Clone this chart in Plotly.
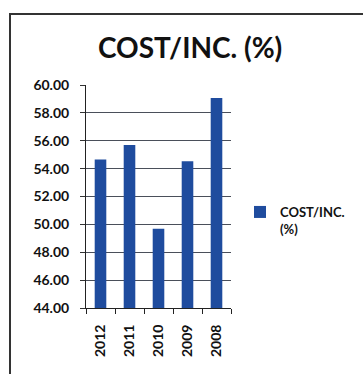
import plotly.graph_objects as go

years = ["2012", "2011", "2010", "2009", "2008"]
cost_inc = [54.65, 55.70, 49.68, 54.53, 59.07]
series_name = "COST/INC.<br>(%)"
title_text = "COST/INC. (%)"
y_ticks = [44, 46, 48, 50, 52, 54, 56, 58, 60]

W, H = 363, 374
L, R, T, B = 86, 231, 85, 308

def px_x(p):
    return (p - L) / (R - L)

def px_y(p):
    return (B - p) / (B - T)

fig = go.Figure()
fig.add_trace(go.Bar(x=years, y=cost_inc, name=series_name,
                     marker=dict(color="#1f4c9e", line=dict(width=0)),
                     showlegend=True))

fig.update_layout(
    width=W, height=H,
    margin=dict(l=L, r=W - R, t=T, b=H - B, pad=0),
    paper_bgcolor="white", plot_bgcolor="white",
    bargap=0.6,
    font=dict(family="Lato", color="#111111"),
    showlegend=True,
    legend=dict(x=px_x(240), y=px_y(197), xanchor="left", yanchor="top",
                font=dict(size=13, family="Lato", color="#111111", weight="bold"),
                valign="top", itemwidth=30, bgcolor="rgba(0,0,0,0)",
                tracegroupgap=0),
    annotations=[dict(text="<b>" + title_text + "</b>", x=px_x(190), y=px_y(47),
                      xref="paper", yref="paper", showarrow=False,
                      font=dict(size=28, family="Lato", color="#111111"),
                      xanchor="center", yanchor="middle")],
    shapes=[dict(type="rect", xref="paper", yref="paper",
                 x0=px_x(10), x1=px_x(380), y0=px_y(390), y1=px_y(14),
                 line=dict(color="#333333", width=2), layer="below")],
)
fig.update_xaxes(type="category", showline=True, linecolor="#222222", linewidth=1,
                 ticks="outside", ticklen=5, tickcolor="#222222", tickson="boundaries",
                 tickangle=-90, ticklabelstandoff=10,
                 tickfont=dict(size=14, family="Lato", color="#111111", weight="bold"),
                 showgrid=False)
fig.update_yaxes(range=[44, 60], tickvals=y_ticks,
                 ticktext=[f"{v:.2f}" for v in y_ticks],
                 showline=True, linecolor="#222222", linewidth=1,
                 ticks="outside", ticklen=5, tickcolor="#333333",
                 showgrid=True, gridcolor="#4a4f5a", gridwidth=1,
                 tickfont=dict(size=14, family="Lato", color="#111111", weight="bold"),
                 ticklabelstandoff=8, zeroline=False)

fig.write_html("out.html")
